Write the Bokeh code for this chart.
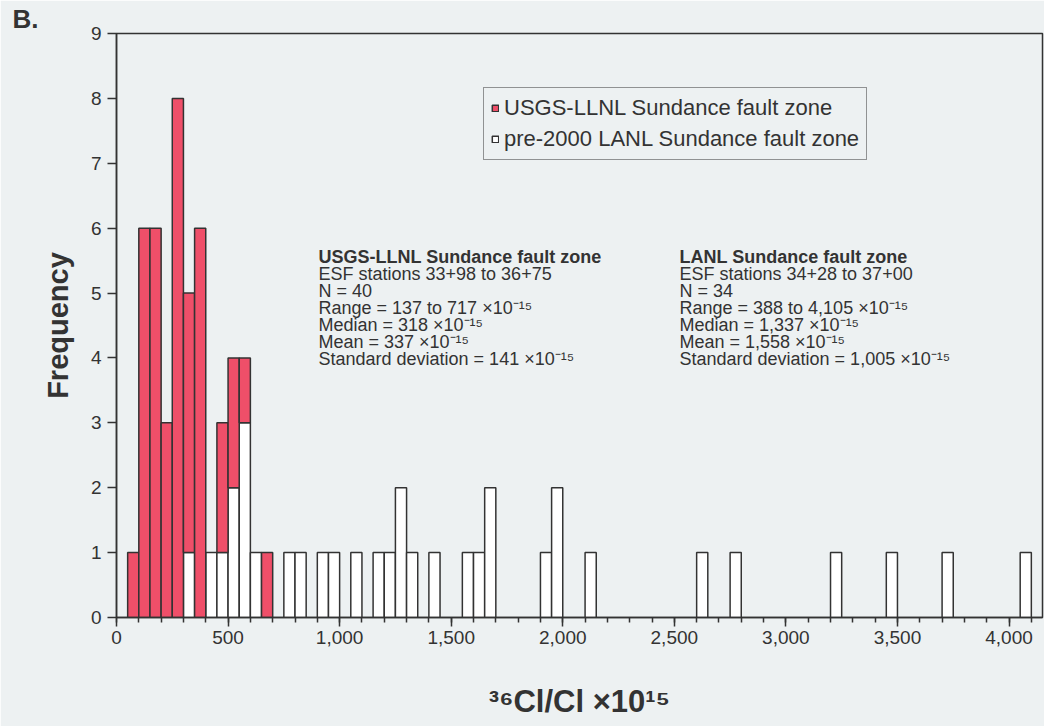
from bokeh.plotting import figure
from bokeh.models import (Range1d, FixedTicker, NumeralTickFormatter, Label,
                          Legend, LegendItem, ColumnDataSource)
from bokeh.embed import file_html
from bokeh.resources import INLINE

# ---- data (histogram bins of width 50, lower edges) ----
bin_width = 50
usgs_bin_start = [50, 100, 150, 200, 250, 300, 350, 450, 500, 550, 650]
usgs_count = [1, 6, 6, 3, 8, 4, 6, 2, 2, 1, 1]

lanl_bin_start = [300, 400, 450, 500, 550, 600, 750, 800, 900, 950, 1050, 1150,
                  1200, 1250, 1300, 1400, 1550, 1600, 1650, 1900, 1950, 2100,
                  2600, 2750, 3200, 3450, 3700, 4050]
lanl_count = [1, 1, 1, 2, 3, 1, 1, 1, 1, 1, 1, 1,
              1, 2, 1, 1, 1, 1, 2, 1, 2, 1,
              1, 1, 1, 1, 1, 1]

x_ticks = [0, 500, 1000, 1500, 2000, 2500, 3000, 3500, 4000]
y_ticks = [0, 1, 2, 3, 4, 5, 6, 7, 8, 9]

usgs_stats = ["USGS-LLNL Sundance fault zone",
              "ESF stations 33+98 to 36+75",
              "N = 40",
              "Range = 137 to 717 \u00d710\u207b\u00b9\u2075",
              "Median = 318 \u00d710\u207b\u00b9\u2075",
              "Mean = 337 \u00d710\u207b\u00b9\u2075",
              "Standard deviation = 141 \u00d710\u207b\u00b9\u2075"]
lanl_stats = ["LANL Sundance fault zone",
              "ESF stations 34+28 to 37+00",
              "N = 34",
              "Range = 388 to 4,105 \u00d710\u207b\u00b9\u2075",
              "Median = 1,337 \u00d710\u207b\u00b9\u2075",
              "Mean = 1,558 \u00d710\u207b\u00b9\u2075",
              "Standard deviation = 1,005 \u00d710\u207b\u00b9\u2075"]

# ---- styles ----
BG = "#edf1f2"
RED = "#ef4f69"
INK = "#333333"
FONT = "Liberation Sans"

W, H = 1044, 726
LEFT, TOP, BOTTOM = 116, 33, 617  # frame edges on the canvas
p = figure(width=W, height=H, output_backend="svg", toolbar_location=None,
           x_range=Range1d(0, 4150), y_range=Range1d(0, 9),
           min_border_left=LEFT, min_border_right=2,
           min_border_top=TOP, min_border_bottom=H - BOTTOM)
p.background_fill_color = BG
p.border_fill_color = BG
p.outline_line_color = INK
p.outline_line_width = 1.5
p.grid.visible = False

# panel letter as the title, pushed left into the border
p.title.text = "B."
p.title.align = "left"
p.title.offset = 12 - LEFT
p.title.standoff = 0
p.title.text_font = FONT
p.title.text_font_size = "26px"
p.title.text_font_style = "bold"
p.title.text_color = INK

lanl_lookup = dict(zip(lanl_bin_start, lanl_count))

white_src = ColumnDataSource(dict(
    x=[b + bin_width / 2 for b in lanl_bin_start],
    bottom=[0] * len(lanl_count),
    top=lanl_count))
red_src = ColumnDataSource(dict(
    x=[b + bin_width / 2 for b in usgs_bin_start],
    bottom=[lanl_lookup.get(b, 0) for b in usgs_bin_start],
    top=[lanl_lookup.get(b, 0) + c for b, c in zip(usgs_bin_start, usgs_count)]))

r_white = p.vbar(x="x", bottom="bottom", top="top", width=bin_width, source=white_src,
                 fill_color="white", line_color=INK, line_width=1.5)
r_red = p.vbar(x="x", bottom="bottom", top="top", width=bin_width, source=red_src,
               fill_color=RED, line_color=INK, line_width=1.5)

# ---- axes ----
xa = p.xaxis[0]
xa.ticker = FixedTicker(ticks=x_ticks, minor_ticks=list(range(0, 4200, 100)))
xa.formatter = NumeralTickFormatter(format="0,0")
ya = p.yaxis[0]
ya.ticker = FixedTicker(ticks=y_ticks)
for ax in (xa, ya):
    ax.axis_line_color = INK
    ax.axis_line_width = 1.5
    ax.major_tick_line_color = INK
    ax.major_tick_line_width = 1.5
    ax.minor_tick_line_color = INK
    ax.minor_tick_line_width = 1.5
    ax.major_tick_in = 0
    ax.minor_tick_in = 0
    ax.major_label_text_font = FONT
    ax.major_label_text_font_size = "19px"
    ax.major_label_text_color = INK
    ax.axis_label_text_font = FONT
    ax.axis_label_text_font_style = "bold"
    ax.axis_label_text_color = INK
xa.major_tick_out = 9
xa.minor_tick_out = 5
xa.major_label_standoff = 4
ya.major_tick_out = 9
ya.major_label_standoff = 6
ya.minor_tick_line_color = None

ya.axis_label = "Frequency"
ya.axis_label_text_font_size = "29px"
ya.axis_label_standoff = 14

xa.axis_label = "\u00b3\u2076Cl/Cl \u00d710\u00b9\u2075"
xa.axis_label_text_font_size = "31px"
xa.axis_label_standoff = 37


def lab(page_x, page_y, text, size, bold=False):
    # screen units of a Label are measured from the frame's bottom-left corner
    p.add_layout(Label(x=page_x - LEFT, y=BOTTOM - page_y, x_units="screen", y_units="screen",
                       text=text, text_align="left", text_baseline="middle",
                       text_font=FONT, text_font_size=size,
                       text_font_style="bold" if bold else "normal",
                       text_color=INK))


# ---- statistics blocks ----
for col_x, lines in ((318, usgs_stats), (679, lanl_stats)):
    for i, t in enumerate(lines):
        lab(col_x, 256 + 17 * i, t, "18px", i == 0)

# ---- legend ----
legend = Legend(items=[LegendItem(label="USGS-LLNL Sundance fault zone", renderers=[r_red]),
                       LegendItem(label="pre-2000 LANL Sundance fault zone", renderers=[r_white])],
                location=(483 - LEFT, BOTTOM - 160))
legend.label_text_font = FONT
legend.label_text_font_size = "22px"
legend.label_text_color = INK
legend.glyph_width = 8
legend.glyph_height = 8
legend.label_standoff = 5
legend.label_height = 25
legend.padding = 7
legend.spacing = 5
legend.margin = 0
legend.border_line_color = INK
legend.border_line_width = 1.5
legend.background_fill_color = BG
legend.background_fill_alpha = 1
p.add_layout(legend)

open("out.html", "w").write(file_html(p, INLINE))
